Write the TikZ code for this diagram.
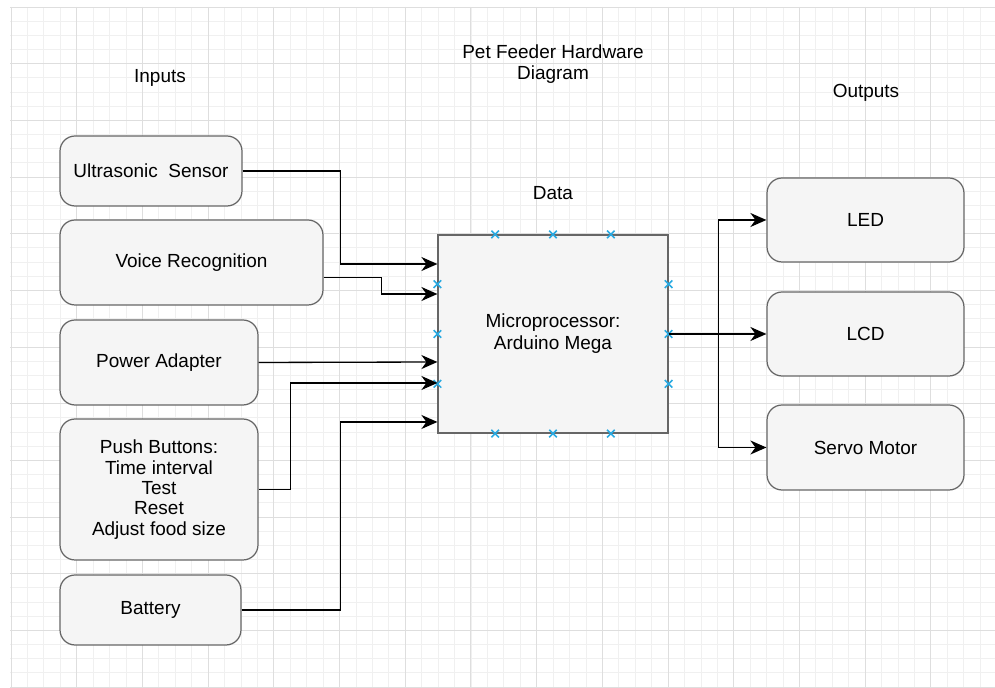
\documentclass[tikz,border=0pt]{standalone}
\usepackage{fontspec}
\setmainfont{Liberation Sans}
\usepackage{tikz}
\usetikzlibrary{arrows.meta,calc,shapes.misc}

\definecolor{boxfill}{HTML}{F5F5F5}
\definecolor{boxline}{HTML}{666666}
\definecolor{portblue}{RGB}{41,170,226}

\begin{document}
\begin{tikzpicture}
	[x=0.02cm, y=-0.02cm,
	inbox/.style={rectangle, rounded corners=0.3cm, draw=boxline, fill=boxfill, line width=0.7pt, align=center, font=\fontsize{10.8}{11.6}\selectfont},
	chip/.style={rectangle, draw=boxline, fill=boxfill, line width=0.7pt, align=center, font=\fontsize{10.8}{12.5}\selectfont},
	caption/.style={align=center, font=\fontsize{10.8}{11.6}\selectfont},
	link/.style={line width=0.75pt, -{Stealth[length=3.2mm, width=2.8mm, inset=1mm]}},
	port/.style={cross out, draw=portblue, line width=0.9pt, minimum size=0.12cm, inner sep=0pt}]
	\useasboundingbox (0,0) rectangle (995,688);
	% grid
	\foreach \i in {0,...,59}
		\draw[black!6, line width=0.4pt] (11+16.425*\i,7) -- (11+16.425*\i,687);
	\foreach \j in {0,...,48}
		\draw[black!6, line width=0.4pt] (10,7+14.167*\j) -- (995,7+14.167*\j);
	\foreach \i in {0,...,14}
		\draw[black!13, line width=0.5pt] (11+65.7*\i,7) -- (11+65.7*\i,687);
	\foreach \j in {0,...,12}
		\draw[black!13, line width=0.5pt] (10,7+56.67*\j) -- (995,7+56.67*\j);

	% captions
	\node[caption] (inputs) at (160,78) {Inputs};
	\node[caption] (title) at (553,64) {Pet Feeder Hardware\\Diagram};
	\node[caption] (data) at (553,193) {Data};
	\node[caption] (outputs) at (866,93) {Outputs};

	% inputs
	\node[inbox, minimum width=3.64cm, minimum height=1.4cm] (us) at (151,171) {Ultrasonic\ \ Sensor};
	\node[inbox, minimum width=5.26cm, minimum height=1.7cm] (voice) at (191.5,262.5) {Voice Recognition};
	\node[inbox, minimum width=3.96cm, minimum height=1.7cm] (power) at (159,362.5) {Power Adapter};
	\node[inbox, minimum width=3.96cm, minimum height=2.82cm] (push) at (159,489.5) {Push Buttons:\\Time interval\\Test\\Reset\\Adjust food size};
	\node[inbox, minimum width=3.62cm, minimum height=1.4cm] (battery) at (150.5,610) {Battery};

	% processor
	\node[chip, minimum width=4.6cm, minimum height=3.96cm] (mcu) at (553,334) {Microprocessor:\\Arduino Mega};

	% outputs
	\node[inbox, minimum width=3.94cm, minimum height=1.68cm] (led) at (865.5,220) {LED};
	\node[inbox, minimum width=3.94cm, minimum height=1.68cm] (lcd) at (865.5,334) {LCD};
	\node[inbox, minimum width=3.94cm, minimum height=1.7cm] (servo) at (865.5,447.5) {Servo Motor};

	% connection points
	\foreach \p in {0.25,0.5,0.75} {
		\node[port] at ($(mcu.north west)!\p!(mcu.north east)$) {};
		\node[port] at ($(mcu.south west)!\p!(mcu.south east)$) {};
		\node[port] at ($(mcu.north west)!\p!(mcu.south west)$) {};
		\node[port] at ($(mcu.north east)!\p!(mcu.south east)$) {};
	}

	% ports on the processor
	\coordinate (in1) at ([yshift=1.4cm]mcu.west);
	\coordinate (in2) at ([yshift=0.8cm]mcu.west);
	\coordinate (in3) at ([yshift=-0.56cm]mcu.west);
	\coordinate (in4) at ([yshift=-0.98cm]mcu.west);
	\coordinate (in5) at ([yshift=-1.76cm]mcu.west);

	\draw[link] (us.east) -- ++(98,0) |- (in1);
	\draw[link] ([yshift=-0.3cm]voice.east) -- ++(58,0) |- (in2);
	\draw[link] (power.east) -- (in3);
	\draw[link] (push.east) -- ++(32,0) |- (in4);
	\draw[link] (battery.east) -- ++(99,0) |- (in5);

	\draw[link] (mcu.east) -- (lcd.west);
	\draw[link] (mcu.east) -- ++(50,0) |- (led.west);
	\draw[link] (mcu.east) -- ++(50,0) |- (servo.west);
\end{tikzpicture}
\end{document}
